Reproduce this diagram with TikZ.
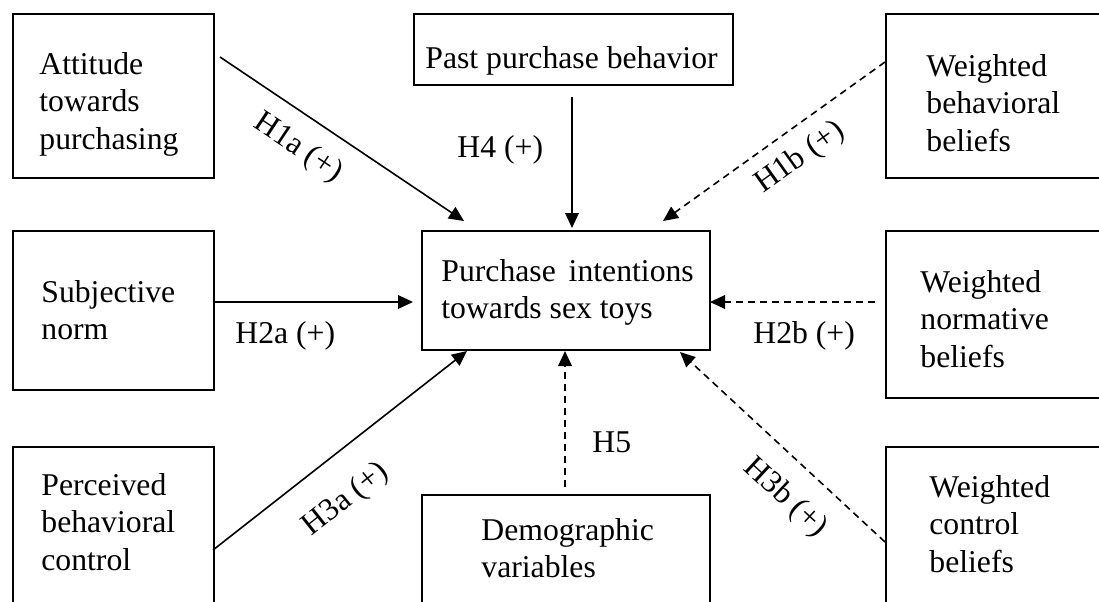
\documentclass[tikz,border=0pt]{standalone}
\usepackage{fontspec}
\setmainfont{Liberation Serif}
\usetikzlibrary{arrows.meta}
\begin{document}
\begin{tikzpicture}[x=0.5pt,y=-0.5pt,
  box/.style={draw, line width=0.75pt, inner sep=0pt, anchor=north west},
  txt/.style={inner sep=0pt, anchor=base west, font=\fontsize{15.85pt}{18.75pt}\selectfont},
  lbl/.style={inner sep=0pt, font=\fontsize{15.85pt}{18.75pt}\selectfont},
  conn/.style={line width=0.8pt, -{Triangle[length=7.5pt,width=6.8pt]}},
  dconn/.style={conn, dash pattern=on 3.5pt off 2.5pt}]
\useasboundingbox (0,0) rectangle (1099,601);
\clip (0,0) rectangle (1099,601);
% boxes
\node[box, minimum width=100.5pt, minimum height=82pt]   (A)  at (12,13)  {};
\node[box, minimum width=159.5pt, minimum height=35.5pt] (P)  at (413,13) {};
\node[box, minimum width=112.5pt, minimum height=82pt]   (WB) at (885,13) {};
\node[box, minimum width=100.5pt, minimum height=79.5pt] (S)  at (12,230) {};
\node[box, minimum width=144pt,   minimum height=59.5pt] (C)  at (421,230) {};
\node[box, minimum width=112.5pt, minimum height=83.5pt] (WN) at (885,230) {};
\node[box, minimum width=100.5pt, minimum height=87pt]   (PBC) at (12,446) {};
\node[box, minimum width=144pt,   minimum height=63pt]   (D)  at (421,494) {};
\node[box, minimum width=112.5pt, minimum height=87pt]   (WC) at (885,446) {};
% box texts
\node[txt] (tA)  at (39,74)  {\parbox[t]{90pt}{\raggedright Attitude\\towards\\purchasing}};
\node[txt] (tP)  at (425,68) {Past purchase behavior};
\node[txt] (tWB) at (926,76) {\parbox[t]{90pt}{\raggedright Weighted\\behavioral\\beliefs}};
\node[txt] (tS)  at (41,302) {\parbox[t]{90pt}{\raggedright Subjective\\norm}};
\node[txt] (tC)  at (441,281) {\parbox[t]{140pt}{\raggedright Purchase \hspace{2.5pt}intentions\\towards sex toys}};
\node[txt] (tWN) at (920,292) {\parbox[t]{90pt}{\raggedright Weighted\\normative\\beliefs}};
\node[txt] (tPBC) at (41,495) {\parbox[t]{90pt}{\raggedright Perceived\\behavioral\\control}};
\node[txt] (tD)  at (481,540) {\parbox[t]{130pt}{\raggedright Demographic\\variables}};
\node[txt] (tWC) at (929,497) {\parbox[t]{90pt}{\raggedright Weighted\\control\\beliefs}};
% connector end points
\coordinate (A-out)   at (220,57);
\coordinate (C-in1)   at (464,221);
\coordinate (P-out)   at (572,97);
\coordinate (C-in2)   at (572,228);
\coordinate (WB-out)  at (885,62);
\coordinate (C-in3)   at (663,221);
\coordinate (S-out)   at (213,302);
\coordinate (C-in4)   at (413,302);
\coordinate (WN-out)  at (875,302);
\coordinate (C-in5)   at (710,302);
\coordinate (PBC-out) at (213,550);
\coordinate (C-in6)   at (467,351);
\coordinate (D-out)   at (565,487);
\coordinate (C-in7)   at (565,351);
\coordinate (WC-out)  at (885,542);
\coordinate (C-in8)   at (680,352);
% connectors
\draw[conn]  (A-out)   -- (C-in1);
\draw[conn]  (P-out)   -- (C-in2);
\draw[dconn] (WB-out)  -- (C-in3);
\draw[conn]  (S-out)   -- (C-in4);
\draw[dconn] (WN-out)  -- (C-in5);
\draw[conn]  (PBC-out) -- (C-in6);
\draw[dconn] (D-out)   -- (C-in7);
\draw[dconn] (WC-out)  -- (C-in8);
% labels
\node[lbl, rotate=-33.6] (l1a) at (298,148) {H1a (+)};
\node[lbl, anchor=base west] (l4) at (457,157) {H4 (+)};
\node[lbl, rotate=35.5] (l1b) at (800,158) {H1b (+)};
\node[lbl, anchor=base west] (l2a) at (235,343) {H2a (+)};
\node[lbl, anchor=base west] (l2b) at (753,343) {H2b (+)};
\node[lbl, rotate=38.4] (l3a) at (346,500) {H3a (+)};
\node[lbl, anchor=base west] (l5) at (592,452) {H5};
\node[lbl, rotate=-42.8] (l3b) at (785,498) {H3b (+)};
\end{tikzpicture}
\end{document}
